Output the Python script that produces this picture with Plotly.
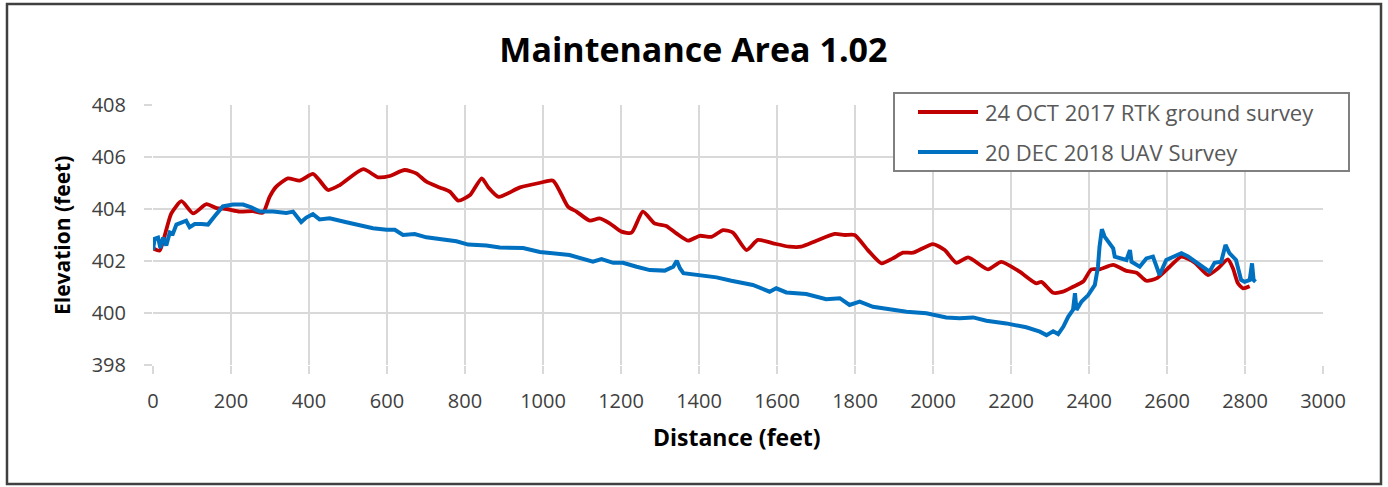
import plotly.graph_objects as go

# ---- Data ----
rtk_dist = [0, 17, 34, 47, 73, 103, 137, 163, 188, 222, 256, 282, 299, 316, 346, 376, 410, 427, 449, 479,
            539, 577, 607, 645, 675, 701, 735, 761, 783, 813, 843, 860, 886, 941, 993, 1026, 1064, 1086,
            1120, 1145, 1171, 1201, 1227, 1256, 1286, 1316, 1342, 1372, 1402, 1432, 1462, 1487, 1522,
            1551, 1590, 1632, 1662, 1701, 1748, 1774, 1799, 1833, 1868, 1897, 1923, 1949, 2000, 2030,
            2060, 2090, 2141, 2175, 2222, 2265, 2278, 2308, 2333, 2359, 2385, 2406, 2427, 2462, 2496,
            2522, 2547, 2573, 2607, 2637, 2671, 2705, 2731, 2756, 2769, 2782, 2795, 2812]
rtk_elev = [402.49, 402.4, 403.2, 403.83, 404.3, 403.83, 404.19, 404.03, 404.0, 403.9, 403.92, 403.86, 404.47,
            404.86, 405.18, 405.09, 405.35, 405.1, 404.73, 404.92, 405.53, 405.22, 405.27, 405.5, 405.37,
            405.05, 404.83, 404.67, 404.32, 404.54, 405.18, 404.83, 404.47, 404.83, 405.01, 405.09, 404.09,
            403.9, 403.55, 403.64, 403.45, 403.13, 403.09, 403.9, 403.45, 403.35, 403.06, 402.78, 402.97,
            402.93, 403.19, 403.09, 402.42, 402.81, 402.68, 402.55, 402.55, 402.78, 403.04, 403.0, 403.0,
            402.42, 401.91, 402.1, 402.32, 402.32, 402.65, 402.42, 401.93, 402.14, 401.68, 401.97, 401.59,
            401.14, 401.2, 400.78, 400.82, 401.01, 401.21, 401.68, 401.68, 401.85, 401.62, 401.55, 401.24,
            401.33, 401.78, 402.17, 401.94, 401.46, 401.72, 402.06, 401.72, 401.14, 400.95, 401.03]

uav_dist = [0, 4, 13, 19, 26, 34, 43, 51, 60, 73, 85, 94, 107, 124, 141, 158, 179, 205, 231, 252, 274, 308,
            342, 359, 380, 393, 410, 427, 453, 496, 530, 564, 599, 620, 641, 671, 701, 735, 778, 808, 855,
            889, 949, 992, 1034, 1068, 1128, 1150, 1180, 1205, 1240, 1274, 1312, 1334, 1343, 1351, 1360,
            1394, 1445, 1483, 1538, 1581, 1598, 1624, 1675, 1726, 1761, 1786, 1812, 1846, 1897, 1932, 1983,
            2034, 2068, 2103, 2137, 2188, 2239, 2274, 2291, 2308, 2321, 2334, 2347, 2359, 2364, 2368, 2381,
            2398, 2415, 2423, 2427, 2433, 2440, 2453, 2462, 2466, 2496, 2505, 2509, 2530, 2547, 2564, 2581,
            2598, 2615, 2637, 2654, 2684, 2709, 2722, 2739, 2750, 2760, 2777, 2790, 2799, 2812, 2818, 2822, 2827]
uav_elev = [402.42, 402.85, 402.9, 402.5, 402.9, 402.6, 403.1, 403.05, 403.4, 403.5, 403.55, 403.3, 403.42,
            403.42, 403.4, 403.72, 404.1, 404.17, 404.17, 404.06, 403.9, 403.9, 403.85, 403.9, 403.5, 403.67,
            403.8, 403.6, 403.64, 403.49, 403.36, 403.26, 403.2, 403.2, 403.0, 403.04, 402.91, 402.85, 402.76,
            402.63, 402.6, 402.52, 402.5, 402.35, 402.27, 402.23, 401.97, 402.07, 401.93, 401.93, 401.78,
            401.65, 401.63, 401.78, 402.01, 401.72, 401.53, 401.46, 401.37, 401.24, 401.08, 400.82, 400.95,
            400.79, 400.73, 400.53, 400.57, 400.31, 400.44, 400.24, 400.14, 400.05, 399.99, 399.83, 399.8,
            399.83, 399.7, 399.6, 399.45, 399.28, 399.15, 399.3, 399.19, 399.47, 399.86, 400.12, 400.76,
            400.12, 400.44, 400.69, 401.08, 401.78, 402.55, 403.22, 402.94, 402.68, 402.49, 402.17, 402.04,
            402.42, 401.97, 401.78, 402.1, 402.17, 401.46, 402.04, 402.17, 402.3, 402.17, 401.85, 401.59,
            401.93, 401.97, 402.62, 402.3, 402.04, 401.27, 401.2, 401.27, 401.91, 401.27, 401.2]

x_ticks = list(range(0, 3001, 200))
y_ticks = [398, 400, 402, 404, 406, 408]

series_names = ["24 OCT 2017 RTK ground survey", "20 DEC 2018 UAV Survey"]
series_colors = ["#c00000", "#0070c0"]

FONT = "Open Sans, DejaVu Sans, sans-serif"

fig = go.Figure()
fig.add_trace(go.Scatter(x=rtk_dist, y=rtk_elev, mode="lines", name=series_names[0],
                         line=dict(color=series_colors[0], width=3.8, shape="spline", smoothing=0.6),
                         showlegend=False))
fig.add_trace(go.Scatter(x=uav_dist, y=uav_elev, mode="lines", name=series_names[1],
                         line=dict(color=series_colors[1], width=4),
                         showlegend=False))

# Plot area pixel geometry: left 153, right 1323, top 105, bottom 365
def px_x(p):
    return (p - 153) / 1170.0

def px_y(p):
    return (365 - p) / 260.0

shapes = []
annotations = []

# outer border
shapes.append(dict(type="rect", xref="paper", yref="paper",
                   x0=px_x(7), x1=px_x(1381), y0=px_y(484), y1=px_y(4),
                   line=dict(color="#404040", width=2.5), fillcolor="rgba(0,0,0,0)", layer="above"))

# legend box
shapes.append(dict(type="rect", xref="paper", yref="paper",
                   x0=px_x(894), x1=px_x(1349), y0=px_y(171), y1=px_y(93),
                   line=dict(color="#808080", width=2), fillcolor="white", layer="above"))
legend_rows = [112, 152]
for name, color, row in zip(series_names, series_colors, legend_rows):
    shapes.append(dict(type="line", xref="paper", yref="paper",
                       x0=px_x(918), x1=px_x(978), y0=px_y(row), y1=px_y(row),
                       line=dict(color=color, width=4), layer="above"))
    annotations.append(dict(xref="paper", yref="paper", x=px_x(983), y=px_y(row),
                            xanchor="left", yanchor="middle", showarrow=False, text=name,
                            font=dict(family=FONT, size=22, color="#595959")))

# axis titles
annotations.append(dict(xref="paper", yref="paper", x=px_x(62), y=px_y(236), textangle=-90,
                        xanchor="center", yanchor="middle", showarrow=False,
                        text="<b>Elevation (feet)</b>",
                        font=dict(family=FONT, size=21, color="#000000")))
annotations.append(dict(xref="paper", yref="paper", x=px_x(737), y=px_y(437),
                        xanchor="center", yanchor="middle", showarrow=False,
                        text="<b>Distance (feet)</b>",
                        font=dict(family=FONT, size=23, color="#000000")))

fig.update_layout(
    width=1388, height=487,
    margin=dict(l=153, r=65, t=105, b=122, autoexpand=False),
    paper_bgcolor="white", plot_bgcolor="white",
    title=dict(text="<b>Maintenance Area 1.02</b>", x=0.4996, xanchor="center",
               y=1 - 50 / 487, yanchor="middle", yref="container",
               font=dict(family=FONT, size=34, color="#000000")),
    shapes=shapes, annotations=annotations,
    showlegend=False,
)
fig.update_xaxes(range=[0, 3000], tickvals=x_ticks, ticktext=[str(v) for v in x_ticks],
                 showgrid=True, gridcolor="#d9d9d9", gridwidth=2,
                 ticks="outside", ticklen=8, tickcolor="#d9d9d9", tickwidth=2,
                 showline=False, zeroline=False, ticklabelstandoff=10,
                 tickfont=dict(family=FONT, size=20, color="#404040"))
fig.update_yaxes(range=[398, 408], tickvals=y_ticks, ticktext=[str(v) for v in y_ticks],
                 showgrid=True, gridcolor="#d9d9d9", gridwidth=2,
                 ticks="outside", ticklen=8, tickcolor="#d9d9d9", tickwidth=2,
                 showline=False, zeroline=False, ticklabelstandoff=14,
                 tickfont=dict(family=FONT, size=20, color="#404040"))

fig.write_html("out.html", config={"displayModeBar": False},
               post_script="document.body.style.margin='0';")
